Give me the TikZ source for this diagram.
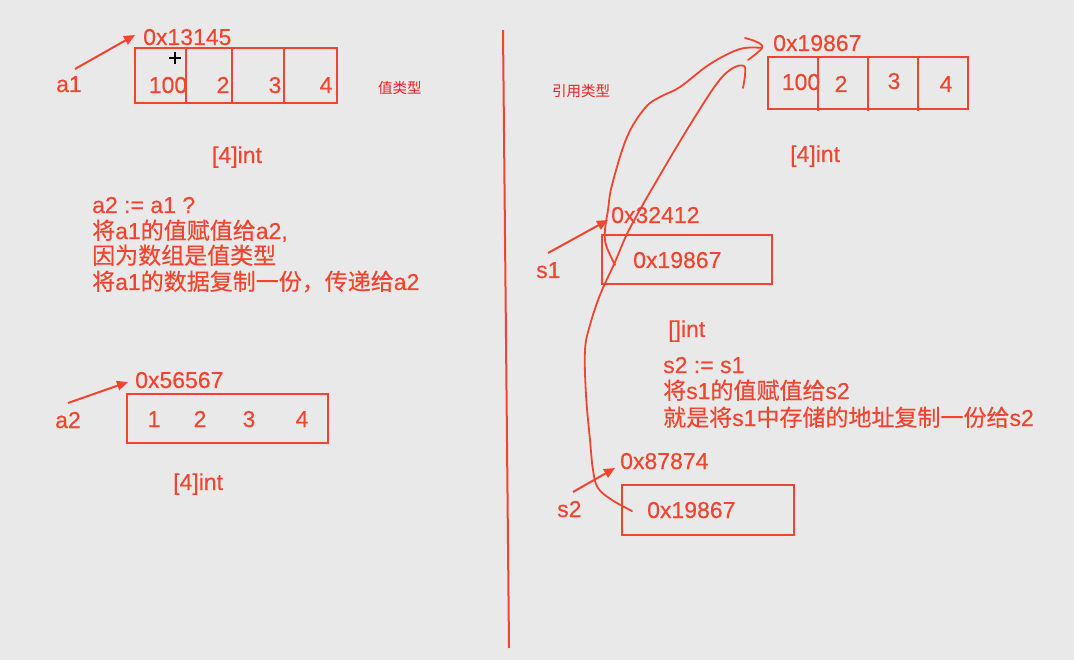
\documentclass[tikz,border=0pt]{standalone}
\usepackage{fontspec}
\setmainfont{Liberation Sans}[UprightFeatures={FakeBold=0.4}]
\newfontfamily\cjk{Noto Sans CJK SC}[UprightFeatures={FakeBold=0.4}]
\newfontfamily\cjklight{Noto Sans CJK SC}
\usetikzlibrary{arrows.meta}
\definecolor{bg}{RGB}{233,233,233}
\definecolor{ink}{RGB}{242,68,46}
\definecolor{lbl}{RGB}{240,30,30}
\newcommand\zh[1]{{\cjk #1}}
\begin{document}
\begin{tikzpicture}[x=1pt,y=-1pt,
  txt/.style={anchor=base west, inner sep=0pt, text=ink, font=\fontsize{23}{25}\selectfont},
  dig/.style={txt, anchor=base},
  small/.style={anchor=base west, inner sep=0pt, text=lbl, font=\cjklight\fontsize{14.5}{16}\selectfont},
  box/.style={draw=ink, line width=2pt},
  ptr/.style={draw=ink, line width=2pt, -{Triangle[length=11pt,width=9.5pt]}},
  hand/.style={draw=ink, line width=1.8pt, line cap=round, line join=round}]
\fill[bg] (0,0) rectangle (1074,660);
\useasboundingbox (0,0) rectangle (1074,660);

% divider
\draw[draw=ink, line width=2pt] (503,30) -- (509,648);

% ---------- left: a1 ----------
\draw[box] (135,48) rectangle (337,103);
\draw[box] (186,48) -- (186,103) (232,48) -- (232,103) (284,48) -- (284,103);
\node[txt] (addr1) at (143,45) {0x13145};
\node[txt] (a1) at (56,92) {a1};
\node[dig] (a1v1) at (168,93) {100};
\node[dig] (a1v2) at (223,93) {2};
\node[dig] (a1v3) at (275,93) {3};
\node[dig] (a1v4) at (326,93) {4};
\coordinate (a1s) at (75,69);
\coordinate (a1t) at (135,35);
\draw[ptr] (a1s) -- (a1t);
\node[small] (zhi) at (378,94) {值类型};
\draw[black, line width=1.1pt] (169,58) -- (181,58) (175,52) -- (175,64);
\node[dig] (t1) at (237,163) {[4]int};

% text block
\node[txt] (l1) at (92,213) {a2 := a1 ?};
\node[txt] (l2) at (92,239) {\zh{将}a1\zh{的值赋值给}a2,};
\node[txt] (l3) at (92,264) {\zh{因为数组是值类型}};
\node[txt] (l4) at (92,290) {\zh{将}a1\zh{的数据复制一份，传递给}a2};

% ---------- left: a2 ----------
\draw[box] (127,394) rectangle (328,443);
\node[txt] (addr2) at (135,388) {0x56567};
\node[txt] (a2) at (55,428) {a2};
\node[dig] (a2v1) at (154,427) {1};
\node[dig] (a2v2) at (200,427) {2};
\node[dig] (a2v3) at (249,427) {3};
\node[dig] (a2v4) at (302,427) {4};
\coordinate (a2s) at (68,403);
\coordinate (a2t) at (128,382);
\draw[ptr] (a2s) -- (a2t);
\node[txt] (t2) at (173,490) {[4]int};

% ---------- right ----------
\node[small] (yin) at (552,97) {引用类型};
\draw[box] (768,57) rectangle (968,109);
\draw[box] (818,57) -- (818,111) (868,57) -- (868,111) (918,57) -- (918,111);
\node[txt] (addr3) at (773,51) {0x19867};
\node[dig] (rv1) at (801,90) {100};
\node[dig] (rv2) at (841,92) {2};
\node[dig] (rv3) at (894,89) {3};
\node[dig] (rv4) at (946,92) {4};
\node[txt] (t3) at (790,162) {[4]int};

% s1
\draw[box] (602,235) rectangle (772,284);
\node[txt] (addr4) at (611,223) {0x32412};
\node[txt] (s1v) at (633,268) {0x19867};
\node[txt] (s1) at (536,278) {s1};
\coordinate (s1s) at (548,253);
\coordinate (s1t) at (608,220);
\draw[ptr] (s1s) -- (s1t);

\node[txt] (t4) at (668,337) {[]int};
\node[txt] (r1) at (663,373) {s2 := s1};
\node[txt] (r2) at (663,399) {\zh{将}s1\zh{的值赋值给}s2};
\node[txt] (r3) at (663,426) {\zh{就是将}s1\zh{中存储的地址复制一份给}s2};

% s2
\draw[box] (622,485) rectangle (794,535);
\node[txt] (addr5) at (620,469) {0x87874};
\node[txt] (s2v) at (647,518) {0x19867};
\node[txt] (s2) at (557,517) {s2};
\coordinate (s2s) at (573,492);
\coordinate (s2t) at (615,468);
\draw[ptr] (s2s) -- (s2t);

% hand-drawn pointer curves
\coordinate (c1s) at (615,265);
\coordinate (c1e) at (762,48);
\draw[hand] plot[smooth, tension=0.6] coordinates {(c1s) (606,245) (605,230) (608,210) (612,185) (627,137) (645,108) (660,97) (680,87) (710,64) (740,49) (c1e)};
\draw[hand] plot[smooth, tension=0.6] coordinates {(745,38) (757,42) (c1e) (748,60)};
\coordinate (c2s) at (632,511);
\draw[hand] plot[smooth, tension=0.6] coordinates {(c2s) (612,500) (598,488) (593,470) (590,440) (586,395) (585,350) (590,325) (600,295) (615,262) (630,228) (660,175) (693,120) (718,82) (733,68) (744,66) (745,75) (743,88)};
\end{tikzpicture}
\end{document}
